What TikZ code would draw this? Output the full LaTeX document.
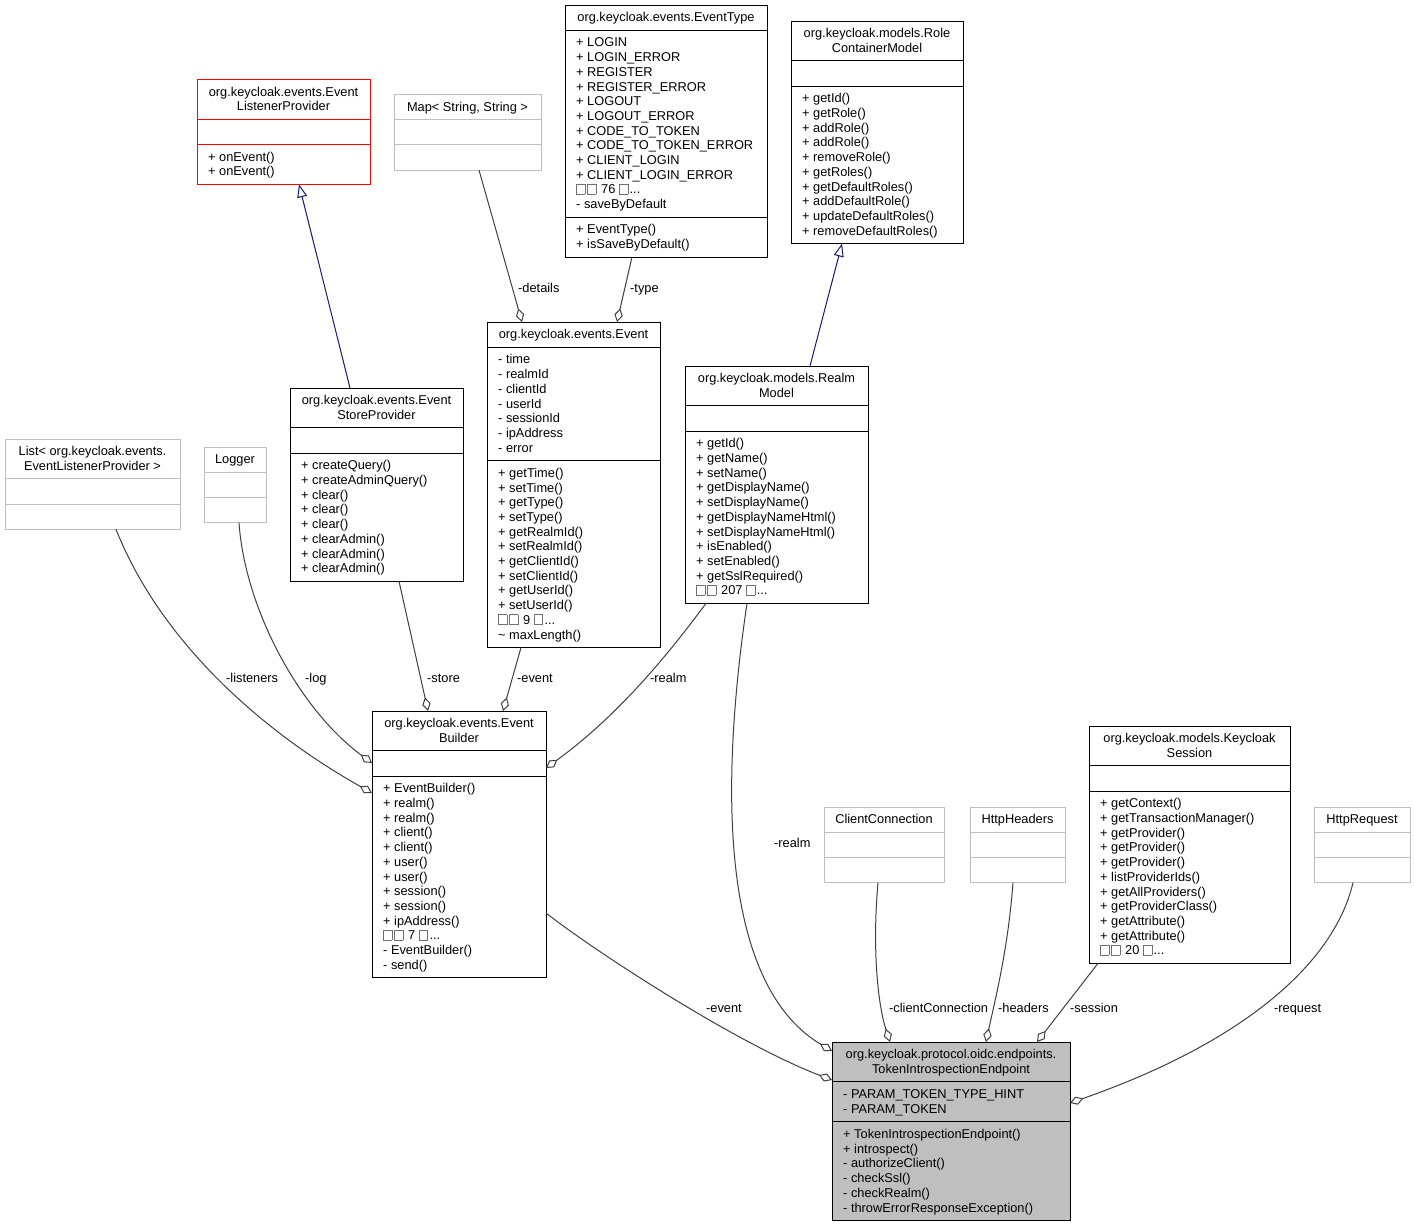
\documentclass[tikz,border=0pt]{standalone}
\usepackage{fontspec}
\setmainfont{Liberation Sans}
\usetikzlibrary{arrows.meta,calc}
\definecolor{dxedge}{HTML}{404040}
\definecolor{dxblue}{HTML}{191970}
\definecolor{dxgray}{HTML}{BFBFBF}
\definecolor{dxred}{HTML}{FF0000}
\definecolor{dxbox}{HTML}{707070}
\newcommand\dxfont{\fontsize{12.8pt}{14.7pt}\selectfont}
\newcommand\st{\rule{0pt}{12pt}}
\newcommand\gb{{\color{dxbox}\setlength\fboxsep{0pt}\setlength\fboxrule{0.6pt}\fbox{\rule{0pt}{9.5pt}\hspace{8pt}}}\hspace{1.5pt}}
\newcommand\cls[9]{%
  \pgfmathsetmacro\hT{14.7*max(#7,1)+10.5}%
  \pgfmathsetmacro\hA{14.7*max(#8,1)+10.5}%
  \pgfmathsetmacro\hM{14.7*max(#9,1)+10.5}%
  \pgfmathsetmacro\cW{#6-#4}%
  \pgfmathsetmacro\cH{\hT+\hA+\hM}%
  \node[draw=#2, fill=#3, line width=1pt, inner sep=0pt, outer sep=0pt,
        minimum width=\cW pt, minimum height=\cH pt, anchor=north west] (#1) at (#4,#5) {};
  \draw[#2, line width=1pt] (#4,#5+\hT) -- (#6,#5+\hT);
  \draw[#2, line width=1pt] (#4,#5+\hT+\hA) -- (#6,#5+\hT+\hA);
  \coordinate (#1-t) at ({(#4+#6)/2},#5+4.5);
  \coordinate (#1-a) at (#4+11,#5+\hT+4.5);
  \coordinate (#1-m) at (#4+11,#5+\hT+\hA+4.5);
}
\tikzset{
  txtsty/.style={font=\dxfont, inner sep=0pt, text=black},
  ttlsty/.style={txtsty, align=center, anchor=north},
  liststy/.style={txtsty, align=left, anchor=north west},
  lblsty/.style={txtsty, anchor=base west},
  agg/.style={draw=dxedge, line width=1pt, -{Diamond[fill=white, length=14pt, width=8.5pt]}},
  inh/.style={draw=dxblue, line width=1pt, -{Triangle[fill=white, length=13pt, width=10pt]}},
}
\begin{document}
\begin{tikzpicture}[x=1pt,y=-1pt]
\useasboundingbox (0,0) rectangle (1415,1227);
\fill[white] (0,0) rectangle (1415,1227);

% classes
\cls{et}{black}{white}{565}{5}{767}{1}{12}{2}
\cls{rcm}{black}{white}{791}{21}{963}{2}{0}{10}
\cls{elp}{dxred}{white}{197}{79.3}{370}{2}{0}{2}
\cls{map}{dxgray}{white}{394}{94.5}{541}{1}{0}{0}
\cls{ev}{black}{white}{487}{322}{660}{1}{7}{12}
\cls{rm}{black}{white}{685}{366}{868}{2}{0}{11}
\cls{esp}{black}{white}{290}{388}{463}{2}{0}{8}
\cls{lst}{dxgray}{white}{5}{439}{180}{2}{0}{0}
\cls{log}{dxgray}{white}{204}{447}{266}{1}{0}{0}
\cls{eb}{black}{white}{372}{711}{546}{2}{0}{13}
\cls{ks}{black}{white}{1089}{726}{1290}{2}{0}{11}
\cls{cc}{dxgray}{white}{824}{807}{944}{1}{0}{0}
\cls{hh}{dxgray}{white}{970}{807}{1065}{1}{0}{0}
\cls{hr}{dxgray}{white}{1314}{807}{1410}{1}{0}{0}
\cls{tie}{black}{dxgray}{832}{1042}{1070}{2}{2}{6}

% texts
\node[ttlsty] (et-title) at (et-t) {\st org.keycloak.events.EventType};
\node[liststy] (et-attr) at (et-a) {\st + LOGIN\\+ LOGIN\_ERROR\\+ REGISTER\\+ REGISTER\_ERROR\\+ LOGOUT\\+ LOGOUT\_ERROR\\+ CODE\_TO\_TOKEN\\+ CODE\_TO\_TOKEN\_ERROR\\+ CLIENT\_LOGIN\\+ CLIENT\_LOGIN\_ERROR\\\gb\gb\ 76 \gb...\\- saveByDefault};
\node[liststy] (et-meth) at (et-m) {\st + EventType()\\+ isSaveByDefault()};

\node[ttlsty] (rcm-title) at (rcm-t) {\st org.keycloak.models.Role\\ContainerModel};
\node[liststy] (rcm-meth) at (rcm-m) {\st + getId()\\+ getRole()\\+ addRole()\\+ addRole()\\+ removeRole()\\+ getRoles()\\+ getDefaultRoles()\\+ addDefaultRole()\\+ updateDefaultRoles()\\+ removeDefaultRoles()};

\node[ttlsty] (elp-title) at (elp-t) {\st org.keycloak.events.Event\\ListenerProvider};
\node[liststy] (elp-meth) at (elp-m) {\st + onEvent()\\+ onEvent()};

\node[ttlsty] (map-title) at (map-t) {\st Map< String, String >};

\node[ttlsty] (ev-title) at (ev-t) {\st org.keycloak.events.Event};
\node[liststy] (ev-attr) at (ev-a) {\st - time\\- realmId\\- clientId\\- userId\\- sessionId\\- ipAddress\\- error};
\node[liststy] (ev-meth) at (ev-m) {\st + getTime()\\+ setTime()\\+ getType()\\+ setType()\\+ getRealmId()\\+ setRealmId()\\+ getClientId()\\+ setClientId()\\+ getUserId()\\+ setUserId()\\\gb\gb\ 9 \gb...\\\textasciitilde{} maxLength()};

\node[ttlsty] (rm-title) at (rm-t) {\st org.keycloak.models.Realm\\Model};
\node[liststy] (rm-meth) at (rm-m) {\st + getId()\\+ getName()\\+ setName()\\+ getDisplayName()\\+ setDisplayName()\\+ getDisplayNameHtml()\\+ setDisplayNameHtml()\\+ isEnabled()\\+ setEnabled()\\+ getSslRequired()\\\gb\gb\ 207 \gb...};

\node[ttlsty] (esp-title) at (esp-t) {\st org.keycloak.events.Event\\StoreProvider};
\node[liststy] (esp-meth) at (esp-m) {\st + createQuery()\\+ createAdminQuery()\\+ clear()\\+ clear()\\+ clear()\\+ clearAdmin()\\+ clearAdmin()\\+ clearAdmin()};

\node[ttlsty] (lst-title) at (lst-t) {\st List< org.keycloak.events.\\EventListenerProvider >};
\node[ttlsty] (log-title) at (log-t) {\st Logger};

\node[ttlsty] (eb-title) at (eb-t) {\st org.keycloak.events.Event\\Builder};
\node[liststy] (eb-meth) at (eb-m) {\st + EventBuilder()\\+ realm()\\+ realm()\\+ client()\\+ client()\\+ user()\\+ user()\\+ session()\\+ session()\\+ ipAddress()\\\gb\gb\ 7 \gb...\\- EventBuilder()\\- send()};

\node[ttlsty] (ks-title) at (ks-t) {\st org.keycloak.models.Keycloak\\Session};
\node[liststy] (ks-meth) at (ks-m) {\st + getContext()\\+ getTransactionManager()\\+ getProvider()\\+ getProvider()\\+ getProvider()\\+ listProviderIds()\\+ getAllProviders()\\+ getProviderClass()\\+ getAttribute()\\+ getAttribute()\\\gb\gb\ 20 \gb...};

\node[ttlsty] (cc-title) at (cc-t) {\st ClientConnection};
\node[ttlsty] (hh-title) at (hh-t) {\st HttpHeaders};
\node[ttlsty] (hr-title) at (hr-t) {\st HttpRequest};

\node[ttlsty] (tie-title) at (tie-t) {\st org.keycloak.protocol.oidc.endpoints.\\TokenIntrospectionEndpoint};
\node[liststy] (tie-attr) at (tie-a) {\st - PARAM\_TOKEN\_TYPE\_HINT\\- PARAM\_TOKEN};
\node[liststy] (tie-meth) at (tie-m) {\st + TokenIntrospectionEndpoint()\\+ introspect()\\- authorizeClient()\\- checkSsl()\\- checkRealm()\\- throwErrorResponseException()};

% inheritance
\draw[inh] ($(esp.north west)+(60,0)$) -- ($(elp.south west)+(102,0)$);
\draw[inh] ($(rm.north west)+(125,0)$) -- ($(rcm.south west)+(51,0)$);

% aggregation
\draw[agg] ($(map.south west)+(85,0)$) -- ($(ev.north west)+(35,0)$);
\draw[agg] ($(et.south west)+(67,0)$) -- ($(ev.north west)+(130,0)$);
\draw[agg] ($(lst.south west)+(111,0)$) .. controls +(44,111) and +(-112,-63) .. ($(eb.north west)+(0,82)$);
\draw[agg] ($(log.south west)+(35,0)$) .. controls +(6,87) and +(-72,-53) .. ($(eb.north west)+(0,52)$);
\draw[agg] ($(esp.south west)+(109,0)$) -- ($(eb.north west)+(56,0)$);
\draw[agg] ($(ev.south west)+(34,0)$) -- ($(eb.north west)+(131,0)$);
\draw[agg] ($(rm.south west)+(21,0)$) .. controls +(-31,42) and +(76,-55) .. ($(eb.north east)+(0,57)$);
\draw[agg] ($(rm.south west)+(62,0)$) .. controls +(-32,217) and +(-102,-61) .. ($(tie.north west)+(0,9)$);
\draw[agg] ($(eb.north east)+(0,202)$) .. controls +(54,42) and +(-92,-35) .. ($(tie.north west)+(0,38)$);
\draw[agg] ($(cc.south west)+(54,0)$) .. controls +(-6,67) and +(-12,-37) .. ($(tie.north west)+(58,0)$);
\draw[agg] ($(hh.south west)+(43,0)$) .. controls +(-5,67) and +(9,-42) .. ($(tie.north west)+(154,0)$);
\draw[agg] ($(ks.south west)+(9,0)$) -- ($(tie.north west)+(205,0)$);
\draw[agg] ($(hr.south west)+(39,0)$) .. controls +(-18,77) and +(180,-63) .. ($(tie.north east)+(0,61)$);

% labels
\node[lblsty] (l-details) at (518,292.5) {-details};
\node[lblsty] (l-type) at (630,292.5) {-type};
\node[lblsty] (l-listeners) at (226,682.5) {-listeners};
\node[lblsty] (l-log) at (305,682.5) {-log};
\node[lblsty] (l-store) at (427,682.5) {-store};
\node[lblsty] (l-event1) at (517,682.5) {-event};
\node[lblsty] (l-realm1) at (650,682.5) {-realm};
\node[lblsty] (l-realm2) at (774,847.5) {-realm};
\node[lblsty] (l-event2) at (706,1012.5) {-event};
\node[lblsty] (l-cc) at (889,1012.5) {-clientConnection};
\node[lblsty] (l-hh) at (998,1012.5) {-headers};
\node[lblsty] (l-ks) at (1070,1012.5) {-session};
\node[lblsty] (l-hr) at (1274,1012.5) {-request};
\end{tikzpicture}
\end{document}
